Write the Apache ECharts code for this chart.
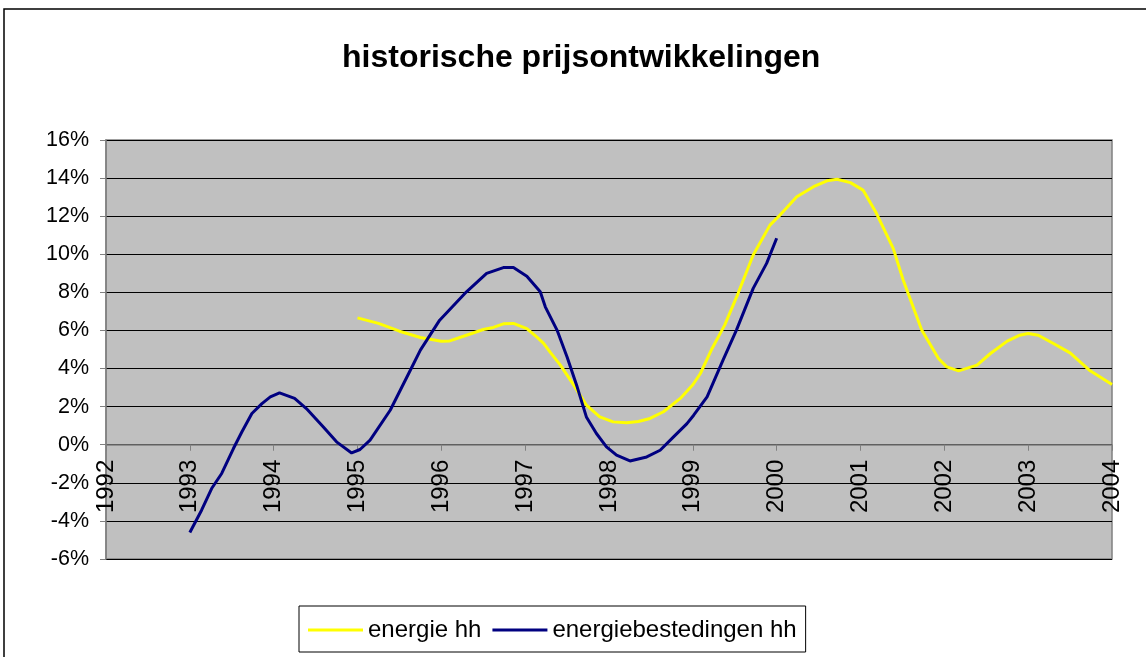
<!DOCTYPE html>
<html>
<head>
<meta charset="utf-8">
<script src="https://cdn.jsdelivr.net/npm/echarts@6/dist/echarts.min.js"></script>
<style>
  html, body { margin: 0; padding: 0; background: #fff; }
  #chart { width: 1146px; height: 657px; }
</style>
</head>
<body>
<div id="chart"></div>
<script>
// energie hh (yellow)
var energieYears = [
  1995.00, 1995.25, 1995.50, 1995.75, 1996.00, 1996.10, 1996.30, 1996.50, 1996.62, 1996.74,
  1996.86, 1997.02, 1997.14, 1997.22, 1997.30, 1997.42, 1997.58, 1997.73, 1997.89, 1998.05,
  1998.21, 1998.35, 1998.49, 1998.65, 1998.85, 1999.00, 1999.09, 1999.22, 1999.38, 1999.54,
  1999.72, 1999.92, 2000.04, 2000.24, 2000.44, 2000.60, 2000.72, 2000.88, 2001.03, 2001.19,
  2001.39, 2001.51, 2001.73, 2001.93, 2002.03, 2002.17, 2002.39, 2002.55, 2002.75, 2002.90,
  2003.00, 2003.12, 2003.28, 2003.50, 2003.74, 2004.00
];
var energieValues = [
  6.66, 6.37, 5.96, 5.63, 5.43, 5.45, 5.75, 6.05, 6.16, 6.35,
  6.37, 6.10, 5.65, 5.32, 4.85, 4.18, 3.13, 2.08, 1.46, 1.20,
  1.15, 1.22, 1.38, 1.73, 2.43, 3.15, 3.74, 4.97, 6.28, 7.95,
  9.96, 11.53, 12.06, 13.02, 13.55, 13.86, 13.94, 13.76, 13.37, 12.15,
  10.31, 8.64, 6.02, 4.53, 4.09, 3.88, 4.18, 4.79, 5.44, 5.75,
  5.84, 5.75, 5.37, 4.82, 3.88, 3.16
];

// energiebestedingen hh (navy)
var bestedingenYears = [
  1993.00, 1993.14, 1993.26, 1993.38, 1993.52, 1993.62, 1993.74, 1993.86, 1993.96, 1994.07,
  1994.25, 1994.39, 1994.59, 1994.75, 1994.93, 1995.03, 1995.15, 1995.39, 1995.63, 1995.75,
  1995.98, 1996.30, 1996.54, 1996.74, 1996.86, 1997.02, 1997.18, 1997.24, 1997.38, 1997.50,
  1997.62, 1997.73, 1997.85, 1997.97, 1998.09, 1998.25, 1998.45, 1998.61, 1998.77, 1998.93,
  1999.01, 1999.17, 1999.36, 1999.52, 1999.72, 1999.88, 2000.00
];
var bestedingenValues = [
  -4.61, -3.44, -2.30, -1.51, -0.20, 0.67, 1.64, 2.16, 2.51, 2.72,
  2.43, 1.90, 0.94, 0.15, -0.43, -0.25, 0.24, 1.81, 3.91, 4.97,
  6.54, 8.03, 9.00, 9.30, 9.30, 8.85, 8.03, 7.24, 6.02, 4.61,
  3.04, 1.46, 0.59, -0.11, -0.55, -0.85, -0.64, -0.29, 0.41, 1.11,
  1.55, 2.51, 4.44, 6.02, 8.21, 9.52, 10.84
];

var seriesNames = ["energie hh", "energiebestedingen hh"];

function pairs(xs, ys) {
  return xs.map(function (x, i) { return [x, ys[i]]; });
}

var font = "'Liberation Sans', Arial, sans-serif";

// grid: top 140, height 419, y from -6 to 16 -> zero line sits 6/22 of the height above the bottom
var gridTop = 140, gridBottom = 98, chartH = 657;
var gridH = chartH - gridTop - gridBottom;
var zeroOffset = -gridH * 6 / 22;

var option = {
  backgroundColor: "#fff",
  animation: false,
  title: {
    text: "historische prijsontwikkelingen",
    left: 337,
    top: 37,
    textStyle: { fontFamily: font, fontSize: 32, fontWeight: "bold", color: "#000" },
  },
  graphic: [
    {
      type: "rect",
      shape: { x: 4, y: 9, width: 1160, height: 700 },
      style: { fill: null, stroke: "#000", lineWidth: 1.5 },
      z: -1,
    },
  ],
  grid: {
    left: 106,
    top: gridTop,
    right: 34,
    bottom: gridBottom,
    show: true,
    backgroundColor: "#c0c0c0",
    borderColor: "#808080",
    borderWidth: 1.5,
  },
  legend: {
    data: seriesNames,
    left: 299,
    top: 606,
    icon: "rect",
    itemWidth: 55,
    itemHeight: 3,
    itemGap: 11,
    padding: [12, 9, 10, 9],
    borderColor: "#000",
    borderWidth: 1,
    backgroundColor: "#fff",
    textStyle: { fontFamily: font, fontSize: 24, color: "#000" },
  },
  xAxis: {
    type: "value",
    min: 1992,
    max: 2004,
    interval: 1,
    offset: zeroOffset,
    axisLine: { onZero: false, lineStyle: { color: "#808080", width: 1.5 } },
    axisTick: { show: true, length: 6, lineStyle: { color: "#808080" } },
    splitLine: { show: false },
    axisLabel: {
      rotate: 90,
      margin: 15,
      showMinLabel: true,
      showMaxLabel: true,
      fontFamily: font,
      fontSize: 24,
      color: "#000",
      formatter: function (v) { return String(v); },
    },
  },
  yAxis: {
    type: "value",
    min: -6,
    max: 16,
    interval: 2,
    axisLine: { show: true, lineStyle: { color: "#808080", width: 1.5 } },
    axisTick: { show: true, length: 6, lineStyle: { color: "#808080" } },
    splitLine: { show: true, lineStyle: { color: "#000", width: 1 } },
    axisLabel: {
      margin: 17,
      fontFamily: font,
      fontSize: 21.5,
      color: "#000",
      formatter: "{value}%",
    },
  },
  series: [
    {
      name: seriesNames[0],
      type: "line",
      data: pairs(energieYears, energieValues),
      showSymbol: false,
      symbol: "none",
      color: "#ffff00",
      lineStyle: { color: "#ffff00", width: 3 },
      z: 3,
    },
    {
      name: seriesNames[1],
      type: "line",
      data: pairs(bestedingenYears, bestedingenValues),
      showSymbol: false,
      symbol: "none",
      color: "#000080",
      lineStyle: { color: "#000080", width: 3 },
      z: 4,
    },
  ],
};

var myChart = echarts.init(document.getElementById("chart"));
myChart.setOption(option);
</script>
</body>
</html>
